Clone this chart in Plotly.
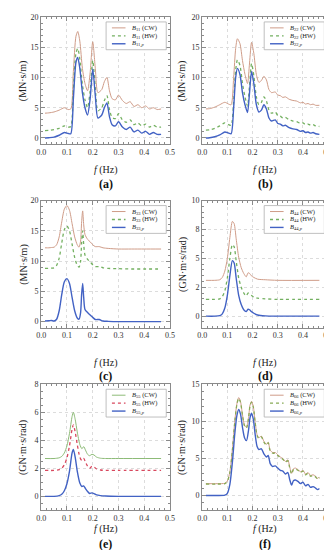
import plotly.graph_objects as go

W, H = 332, 550

# ---------------- data ----------------
# (a) B11
fa = [0.015, 0.03, 0.05, 0.07, 0.09, 0.105, 0.115, 0.125, 0.135, 0.142, 0.15, 0.16, 0.17, 0.18, 0.19, 0.2,
      0.21, 0.22, 0.235, 0.245, 0.255, 0.265, 0.275, 0.288, 0.3, 0.315, 0.33, 0.345, 0.36, 0.375, 0.39,
      0.405, 0.42, 0.435, 0.45, 0.465]
a_cw = [4.1, 4.15, 4.3, 4.6, 5.0, 4.7, 4.8, 11.0, 16.8, 17.6, 16.0, 11.5, 9.0, 7.8, 10.8, 15.9,
        11.5, 7.5, 8.0, 9.3, 10.0, 7.8, 6.5, 6.3, 7.1, 6.2, 5.7, 6.0, 5.2, 5.5, 5.0,
        5.3, 4.8, 5.0, 4.7, 4.8]
a_hw = [1.2, 1.25, 1.4, 1.6, 2.0, 1.8, 1.9, 8.0, 14.0, 14.8, 13.0, 8.8, 6.3, 5.0, 7.8, 12.8,
        8.3, 4.5, 5.0, 6.2, 7.0, 4.7, 3.4, 3.2, 4.0, 3.0, 2.6, 3.0, 2.2, 2.5, 2.0,
        2.3, 1.8, 2.1, 1.8, 1.8]
a_p = [0.0, 0.05, 0.15, 0.45, 0.9, 0.75, 0.7, 6.5, 12.5, 13.3, 11.5, 7.5, 5.0, 3.8, 6.5, 11.4,
       7.0, 3.3, 3.8, 5.0, 5.8, 3.5, 2.2, 2.0, 2.7, 1.8, 1.4, 1.8, 1.0, 1.3, 0.8,
       1.1, 0.6, 0.9, 0.6, 0.6]

# (b) B22
fb = [0.015, 0.03, 0.05, 0.07, 0.09, 0.105, 0.115, 0.125, 0.133, 0.14, 0.15, 0.16, 0.17, 0.18, 0.188,
      0.196, 0.205, 0.215, 0.225, 0.235, 0.245, 0.255, 0.265, 0.275, 0.29, 0.3, 0.31, 0.32, 0.33, 0.345,
      0.36, 0.375, 0.39, 0.4, 0.41, 0.42, 0.43, 0.44, 0.45, 0.465]
b_cw = [4.8, 4.85, 5.1, 5.5, 5.9, 5.6, 5.5, 10.0, 14.8, 16.4, 15.6, 12.8, 10.5, 9.0, 12.4,
        15.8, 14.0, 10.5, 9.2, 9.5, 10.2, 9.6, 8.0, 7.5, 7.6, 7.1, 7.0, 6.7, 6.8, 6.4,
        6.2, 6.1, 5.8, 5.9, 5.6, 5.7, 5.5, 5.6, 5.4, 5.4]
b_hw = [1.3, 1.35, 1.6, 2.0, 2.5, 2.2, 2.1, 6.0, 11.2, 12.9, 12.0, 9.0, 6.8, 5.3, 8.7,
        12.3, 10.3, 6.8, 5.5, 5.9, 6.8, 6.1, 4.6, 4.1, 4.3, 3.7, 3.6, 3.3, 3.4, 3.0,
        2.8, 2.7, 2.4, 2.5, 2.2, 2.3, 2.1, 2.2, 2.0, 1.9]
b_p = [0.0, 0.05, 0.2, 0.5, 1.0, 0.8, 0.7, 5.0, 10.0, 11.5, 10.5, 7.5, 5.5, 4.2, 7.5,
       11.0, 9.0, 5.5, 4.3, 4.6, 5.5, 4.8, 3.3, 2.8, 3.0, 2.4, 2.3, 2.0, 2.1, 1.7,
       1.5, 1.4, 1.1, 1.2, 0.9, 1.0, 0.8, 0.9, 0.7, 0.6]

# (c) B33
fc = [0.015, 0.03, 0.04, 0.05, 0.06, 0.07, 0.08, 0.09, 0.1, 0.11, 0.12, 0.13, 0.14, 0.147, 0.153,
      0.157, 0.161, 0.165, 0.17, 0.18, 0.19, 0.2, 0.21, 0.225, 0.24, 0.26, 0.3, 0.35, 0.4, 0.465]
c_cw = [12.2, 12.2, 12.25, 12.3, 12.7, 14.0, 16.5, 18.6, 19.2, 18.4, 16.2, 14.0, 12.7, 12.3, 13.3,
        16.5, 18.3, 16.0, 14.4, 13.6, 13.2, 12.7, 12.4, 12.4, 12.2, 12.1, 12.0, 12.0, 12.0, 12.0]
c_hw = [8.8, 8.8, 8.85, 8.9, 9.3, 10.5, 13.0, 15.2, 15.8, 15.0, 12.8, 10.6, 9.3, 9.0, 10.0,
        13.0, 15.0, 12.8, 11.0, 10.3, 9.9, 9.4, 9.1, 9.1, 8.9, 8.8, 8.75, 8.7, 8.7, 8.7]
c_p = [0.1, 0.15, 0.2, 0.1, 0.4, 1.8, 4.5, 6.6, 7.1, 6.3, 4.0, 1.8, 0.6, 0.4, 1.5,
       4.5, 6.3, 4.0, 2.0, 1.5, 1.1, 0.7, 0.35, 0.35, 0.1, 0.05, 0.0, 0.0, 0.0, 0.0]

# (d) B44
fd = [0.015, 0.05, 0.07, 0.08, 0.09, 0.1, 0.11, 0.12, 0.127, 0.135, 0.145, 0.155, 0.165, 0.175,
      0.182, 0.188, 0.195, 0.205, 0.22, 0.25, 0.3, 0.465]
d_cw = [3.1, 3.1, 3.15, 3.35, 3.9, 5.0, 6.8, 8.2, 8.0, 6.7, 5.1, 4.2, 3.7, 3.4,
        3.75, 3.7, 3.5, 3.35, 3.2, 3.15, 3.1, 3.1]
d_hw = [1.45, 1.45, 1.5, 1.7, 2.2, 3.3, 5.0, 6.2, 6.0, 4.8, 3.3, 2.5, 2.0, 1.75,
        2.0, 1.95, 1.8, 1.65, 1.55, 1.5, 1.45, 1.45]
d_p = [0.0, 0.0, 0.05, 0.2, 0.7, 1.8, 3.5, 4.8, 4.6, 3.3, 1.8, 1.0, 0.55, 0.4,
       0.6, 0.55, 0.4, 0.25, 0.1, 0.02, 0.0, 0.0]

# (e) B55
fe = [0.015, 0.05, 0.07, 0.08, 0.09, 0.1, 0.11, 0.12, 0.125, 0.132, 0.14, 0.15, 0.158, 0.165,
      0.172, 0.18, 0.188, 0.197, 0.205, 0.215, 0.23, 0.25, 0.3, 0.465]
e_cw = [2.7, 2.7, 2.75, 2.85, 3.1, 3.6, 4.5, 5.7, 6.0, 5.5, 4.6, 3.7, 3.4, 3.55,
        3.3, 3.0, 2.9, 3.0, 2.95, 2.8, 2.72, 2.7, 2.7, 2.7]
e_hw = [1.85, 1.85, 1.9, 2.0, 2.25, 2.75, 3.6, 4.8, 5.1, 4.6, 3.7, 2.8, 2.55, 2.7,
        2.45, 2.15, 2.0, 2.15, 2.1, 1.95, 1.88, 1.85, 1.85, 1.85]
e_p = [0.0, 0.0, 0.05, 0.15, 0.4, 0.9, 1.8, 3.1, 3.35, 2.8, 1.8, 0.95, 0.7, 0.75,
       0.55, 0.35, 0.2, 0.25, 0.2, 0.1, 0.05, 0.02, 0.0, 0.0]

# (f) B66
ff = [0.015, 0.06, 0.09, 0.1, 0.11, 0.12, 0.13, 0.138, 0.145, 0.152, 0.16, 0.168, 0.176, 0.184, 0.19,
      0.196, 0.203, 0.21, 0.218, 0.225, 0.235, 0.245, 0.255, 0.262, 0.27, 0.28, 0.29, 0.3, 0.31, 0.32,
      0.33, 0.34, 0.347, 0.355, 0.362, 0.37, 0.38, 0.39, 0.4, 0.41, 0.42, 0.43, 0.44, 0.45, 0.458, 0.465]
f_cw = [1.6, 1.6, 1.65, 1.95, 3.2, 6.2, 10.2, 12.4, 13.2, 12.7, 10.9, 9.5, 9.2, 10.5, 12.2,
        12.7, 12.0, 10.0, 8.2, 7.8, 8.0, 7.3, 6.9, 7.2, 6.1, 5.8, 5.8, 5.5, 5.2, 5.0,
        4.6, 4.8, 3.9, 3.0, 3.6, 3.7, 3.5, 3.2, 3.4, 2.9, 3.1, 2.7, 2.8, 2.6, 2.3, 2.5]
f_hw = [1.55, 1.55, 1.6, 1.9, 3.1, 6.1, 10.1, 12.3, 13.1, 12.6, 10.8, 9.4, 9.1, 10.4, 12.1,
        12.6, 11.9, 9.9, 8.1, 7.7, 7.9, 7.2, 6.8, 7.1, 6.0, 5.7, 5.7, 5.4, 5.1, 4.9,
        4.5, 4.7, 3.8, 2.9, 3.5, 3.6, 3.4, 3.1, 3.3, 2.8, 3.0, 2.6, 2.7, 2.5, 2.2, 2.4]
f_p = [0.0, 0.0, 0.05, 0.3, 1.5, 4.5, 8.5, 10.8, 11.6, 11.0, 9.2, 7.8, 7.4, 8.8, 10.5,
       11.1, 10.3, 8.3, 6.6, 6.2, 6.3, 5.6, 5.2, 5.4, 4.3, 3.9, 4.0, 3.7, 3.4, 3.3,
       2.9, 3.1, 2.2, 1.4, 2.0, 2.1, 1.9, 1.6, 1.8, 1.3, 1.5, 1.1, 1.2, 1.0, 0.8, 0.95]

x_ticks = [0.0, 0.1, 0.2, 0.3, 0.4, 0.5]
x_ticktext = ["0.0", "0.1", "0.2", "0.3", "0.4", "0.5"]

TAN = "#CF9C88"
GRN = "#73B060"
BLU = "#4262C4"
RED = "#D8485E"
LGRN = "#8DBB77"

panels = [
    dict(f=fa, cw=a_cw, hw=a_hw, p=a_p, sub="11", unit="(MN·s/m)", yr=[-1, 20],
         yt=[0, 5, 10, 15, 20], ytt=None, ymin=1, lab="(a)", c=(TAN, GRN)),
    dict(f=fb, cw=b_cw, hw=b_hw, p=b_p, sub="22", unit="(MN·s/m)", yr=[-1, 20],
         yt=[0, 5, 10, 15, 20], ytt=None, ymin=1, lab="(b)", c=(TAN, GRN)),
    dict(f=fc, cw=c_cw, hw=c_hw, p=c_p, sub="33", unit="(MN·s/m)", yr=[-1, 20],
         yt=[0, 5, 10, 15, 20], ytt=None, ymin=1, lab="(c)", c=(TAN, GRN)),
    dict(f=fd, cw=d_cw, hw=d_hw, p=d_p, sub="44", unit="(GN·m·s/rad)", yr=[-1, 10],
         yt=[0, 2.5, 5, 7.5, 10], ytt=["0", "2", "5", "8", "10"], ymin=0.5, lab="(d)", c=(TAN, GRN)),
    dict(f=fe, cw=e_cw, hw=e_hw, p=e_p, sub="55", unit="(GN·m·s/rad)", yr=[-1, 8],
         yt=[0, 2, 4, 6, 8], ytt=None, ymin=0.5, lab="(e)", c=(LGRN, RED)),
    dict(f=ff, cw=f_cw, hw=f_hw, p=f_p, sub="66", unit="(GN·m·s/rad)", yr=[-2, 15],
         yt=[0, 5, 10, 15], ytt=None, ymin=1, lab="(f)", c=(TAN, "#88AA55")),
]

# layout geometry (pixels)
col_x = [(29, 162), (195, 325)]
row_y = [(5, 133), (190, 318), (375, 502)]
xtitle_y = [159, 354, 521]
lab_y = [173, 367, 536]
ytitle_x = [11, 175]

def px(x):
    return x / W

def py(y):
    return 1 - y / H

fig = go.Figure()
shapes = []
annotations = []
FONT = "Liberation Serif"

for i, pn in enumerate(panels):
    r, c = divmod(i, 2)
    k = i + 1
    xa = "x" if k == 1 else f"x{k}"
    ya = "y" if k == 1 else f"y{k}"
    cw_col, hw_col = pn["c"]
    fig.add_trace(go.Scatter(x=pn["f"], y=pn["cw"], mode="lines", xaxis=xa, yaxis=ya,
                             line=dict(color=cw_col, width=1, shape="spline", smoothing=0.7),
                             showlegend=False))
    fig.add_trace(go.Scatter(x=pn["f"], y=pn["hw"], mode="lines", xaxis=xa, yaxis=ya,
                             line=dict(color=hw_col, width=1.3, dash="dot", shape="spline", smoothing=0.7),
                             showlegend=False))
    fig.add_trace(go.Scatter(x=pn["f"], y=pn["p"], mode="lines", xaxis=xa, yaxis=ya,
                             line=dict(color=BLU, width=1.4, shape="spline", smoothing=0.7),
                             showlegend=False))
    x0, x1 = col_x[c]
    y0, y1 = row_y[r]
    axcommon = dict(showline=True, linecolor="#8a8a8a", linewidth=1, mirror="ticks",
                    ticks="inside", ticklen=4, tickcolor="#8a8a8a", zeroline=False,
                    showgrid=True, gridcolor="#dcdcdc", griddash="dot", gridwidth=1,
                    tickfont=dict(family=FONT, size=8, color="#333"))
    fig.layout[("xaxis" if k == 1 else f"xaxis{k}")] = dict(
        domain=[px(x0), px(x1)], anchor=ya, range=[0, 0.5], tickvals=x_ticks, ticktext=x_ticktext,
        minor=dict(ticks="inside", ticklen=2, dtick=0.02, tickcolor="#8a8a8a", showgrid=False),
        **axcommon)
    yd = dict(domain=[py(y1), py(y0)], anchor=xa, range=pn["yr"], tickvals=pn["yt"],
              minor=dict(ticks="inside", ticklen=2, dtick=pn["ymin"], tickcolor="#8a8a8a", showgrid=False),
              **axcommon)
    if pn["ytt"]:
        yd["ticktext"] = pn["ytt"]
    fig.layout[("yaxis" if k == 1 else f"yaxis{k}")] = yd

    # titles and panel labels
    annotations.append(dict(x=px(ytitle_x[c]), y=py((y0 + y1) / 2), xref="paper", yref="paper",
                            xanchor="center", yanchor="middle",
                            text=pn["unit"], textangle=-90, showarrow=False,
                            font=dict(family=FONT, size=10, color="#222")))
    annotations.append(dict(x=px((x0 + x1) / 2), y=py(xtitle_y[r]), xref="paper", yref="paper",
                            xanchor="center", yanchor="middle",
                            text="<i>f</i> (Hz)", showarrow=False,
                            font=dict(family=FONT, size=10, color="#222")))
    annotations.append(dict(x=px((x0 + x1) / 2), y=py(lab_y[r]), xref="paper", yref="paper",
                            xanchor="center", yanchor="middle",
                            text="<b>" + pn["lab"] + "</b>", showarrow=False,
                            font=dict(family=FONT, size=12, color="#111")))

    # legend box drawn manually
    bl, bt = x1 - 66, y0 + 5
    shapes.append(dict(type="rect", xref="paper", yref="paper", x0=px(bl), x1=px(bl + 62),
                       y0=py(bt + 28), y1=py(bt), line=dict(color="#b0b0b0", width=0.8),
                       fillcolor="white", layer="above"))
    entries = [(cw_col, "solid", 1, f"<i>B</i><sub>{pn['sub']}</sub> (CW)"),
               (hw_col, "dot", 1.3, f"<i>B</i><sub>{pn['sub']}</sub> (HW)"),
               (BLU, "solid", 1.4, f"<i>B</i><sub>{pn['sub']},<i>p</i></sub>")]
    for j, (col, dash, lw, txt) in enumerate(entries):
        yy = bt + 6 + 8 * j
        shapes.append(dict(type="line", xref="paper", yref="paper", x0=px(bl + 6), x1=px(bl + 20),
                           y0=py(yy), y1=py(yy), line=dict(color=col, width=lw, dash=dash),
                           layer="above"))
        annotations.append(dict(x=px(bl + 25), y=py(yy), xref="paper", yref="paper",
                                xanchor="left", yanchor="middle", text=txt, showarrow=False,
                                font=dict(family=FONT, size=6.5, color="#222")))

fig.update_layout(width=W, height=H, margin=dict(l=0, r=0, t=0, b=0),
                  paper_bgcolor="white", plot_bgcolor="white",
                  shapes=shapes, annotations=annotations, showlegend=False)

fig.write_html("out.html")
